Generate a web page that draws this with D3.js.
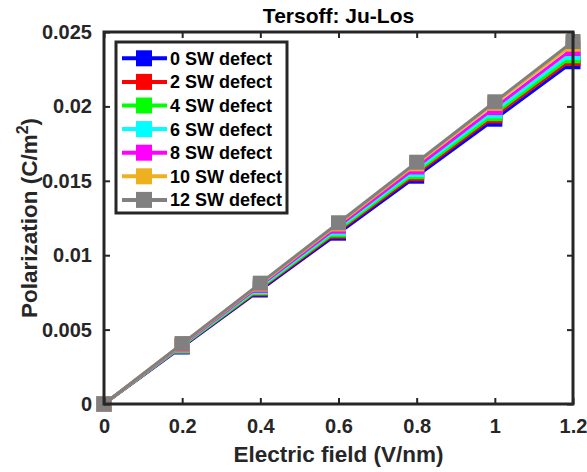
<!DOCTYPE html>
<html>
<head>
<meta charset="utf-8">
<script src="https://cdn.jsdelivr.net/npm/d3@7"></script>
<style>
  html, body { margin: 0; padding: 0; background: #fff; }
  svg { display: block; font-family: "Liberation Sans", Arial, Helvetica, sans-serif; font-weight: bold; }
</style>
</head>
<body>
<svg id="chart" width="587" height="472"></svg>
<script>
// Electric field values (V/nm)
const fields = [0, 0.2, 0.4, 0.6, 0.8, 1.0, 1.2];

// Polarization (C/m^2) for each number of Stone-Wales defects
const sw0  = [0, 0.00383, 0.00766, 0.01148, 0.01531, 0.01914, 0.02300];
const sw2  = [0, 0.00387, 0.00774, 0.01160, 0.01547, 0.01936, 0.02322];
const sw4  = [0, 0.00390, 0.00781, 0.01170, 0.01561, 0.01951, 0.02340];
const sw6  = [0, 0.00394, 0.00788, 0.01182, 0.01576, 0.01970, 0.02362];
const sw8  = [0, 0.00398, 0.00797, 0.01195, 0.01593, 0.01992, 0.02389];
const sw10 = [0, 0.00403, 0.00806, 0.01210, 0.01614, 0.02021, 0.02418];
const sw12 = [0, 0.00406, 0.00812, 0.01218, 0.01625, 0.02031, 0.02436];

const seriesNames  = ["0 SW defect", "2 SW defect", "4 SW defect", "6 SW defect",
                      "8 SW defect", "10 SW defect", "12 SW defect"];
const seriesValues = [sw0, sw2, sw4, sw6, sw8, sw10, sw12];
const seriesColors = ["#0000ff", "#ff0000", "#00ff00", "#00ffff",
                      "#ff00ff", "#edb120", "#808080"];

const xTicks = [0, 0.2, 0.4, 0.6, 0.8, 1, 1.2];
const yTicks = [0, 0.005, 0.01, 0.015, 0.02, 0.025];

const titleText = "Tersoff: Ju-Los";
const xLabel = "Electric field (V/nm)";

const svg = d3.select("#chart");
const axisColor = "#262626";

const plotL = 104, plotR = 573, plotT = 32, plotB = 404;
const x = d3.scaleLinear().domain([0, 1.2]).range([plotL, plotR]);
const y = d3.scaleLinear().domain([0, 0.025]).range([plotB, plotT]);

// Data lines and square markers, drawn series by series
const line = d3.line().x((d, i) => x(fields[i])).y(d => y(d));
const mk = 15;
seriesValues.forEach((vals, s) => {
  const g = svg.append("g");
  g.append("path")
    .attr("d", line(vals))
    .attr("fill", "none")
    .attr("stroke", seriesColors[s])
    .attr("stroke-width", 3);
  g.selectAll("rect")
    .data(vals)
    .join("rect")
    .attr("x", (d, i) => x(fields[i]) - mk / 2)
    .attr("y", d => y(d) - mk / 2)
    .attr("width", mk)
    .attr("height", mk)
    .attr("fill", seriesColors[s]);
});

// Axes with inward ticks on all four sides
const fmt = d => String(+d.toFixed(3));
function styleAxis(g) {
  g.select(".domain").remove();
  g.selectAll(".tick line").attr("stroke", axisColor).attr("stroke-width", 2);
  g.selectAll(".tick text")
    .attr("fill", axisColor)
    .style("font-size", "20px")
    .style("font-weight", "bold")
    .style("font-family", "'Liberation Sans', Arial, sans-serif");
}
svg.append("g").attr("transform", `translate(0,${plotB})`)
  .call(d3.axisBottom(x).tickValues(xTicks).tickFormat(fmt).tickSize(-6).tickPadding(15))
  .call(styleAxis);
svg.append("g").attr("transform", `translate(0,${plotT})`)
  .call(d3.axisTop(x).tickValues(xTicks).tickFormat("").tickSize(-6))
  .call(styleAxis);
svg.append("g").attr("transform", `translate(${plotL},0)`)
  .call(d3.axisLeft(y).tickValues(yTicks).tickFormat(fmt).tickSize(-6).tickPadding(12))
  .call(styleAxis);
svg.append("g").attr("transform", `translate(${plotR},0)`)
  .call(d3.axisRight(y).tickValues(yTicks).tickFormat("").tickSize(-6))
  .call(styleAxis);

// Frame
svg.append("rect")
  .attr("x", plotL).attr("y", plotT)
  .attr("width", plotR - plotL).attr("height", plotB - plotT)
  .attr("fill", "none").attr("stroke", axisColor).attr("stroke-width", 3);

// Title and axis labels
svg.append("text")
  .attr("x", (plotL + plotR) / 2).attr("y", 23)
  .attr("text-anchor", "middle")
  .attr("fill", "#000")
  .style("font-size", "21px")
  .text(titleText);

svg.append("text")
  .attr("x", (plotL + plotR) / 2).attr("y", 462)
  .attr("text-anchor", "middle")
  .attr("fill", axisColor)
  .style("font-size", "22.5px")
  .text(xLabel);

const yl = svg.append("text")
  .attr("transform", `translate(37,${(plotT + plotB) / 2}) rotate(-90)`)
  .attr("text-anchor", "middle")
  .attr("fill", axisColor)
  .style("font-size", "22.5px");
yl.append("tspan").text("Polarization (C/m");
yl.append("tspan").attr("dy", -9).style("font-size", "16px").text("2");
yl.append("tspan").attr("dy", 9).text(")");

// Legend
const legX = 116, legY = 42, legW = 171, legH = 171;
svg.append("rect")
  .attr("x", legX).attr("y", legY).attr("width", legW).attr("height", legH)
  .attr("fill", "#fff").attr("stroke", axisColor).attr("stroke-width", 3);

const rowY = d3.scaleLinear().domain([0, 6]).range([58.3, 199.9]);
const leg = svg.append("g").selectAll("g")
  .data(seriesNames)
  .join("g")
  .attr("transform", (d, i) => `translate(0,${rowY(i)})`);
leg.append("line")
  .attr("x1", 122).attr("x2", 167)
  .attr("stroke", (d, i) => seriesColors[i])
  .attr("stroke-width", 4);
leg.append("rect")
  .attr("x", 144 - 8).attr("y", -8).attr("width", 16).attr("height", 16)
  .attr("fill", (d, i) => seriesColors[i]);
leg.append("text")
  .attr("x", 170).attr("y", 6.5)
  .attr("fill", "#000")
  .style("font-size", "18px")
  .text(d => d);
</script>
</body>
</html>
